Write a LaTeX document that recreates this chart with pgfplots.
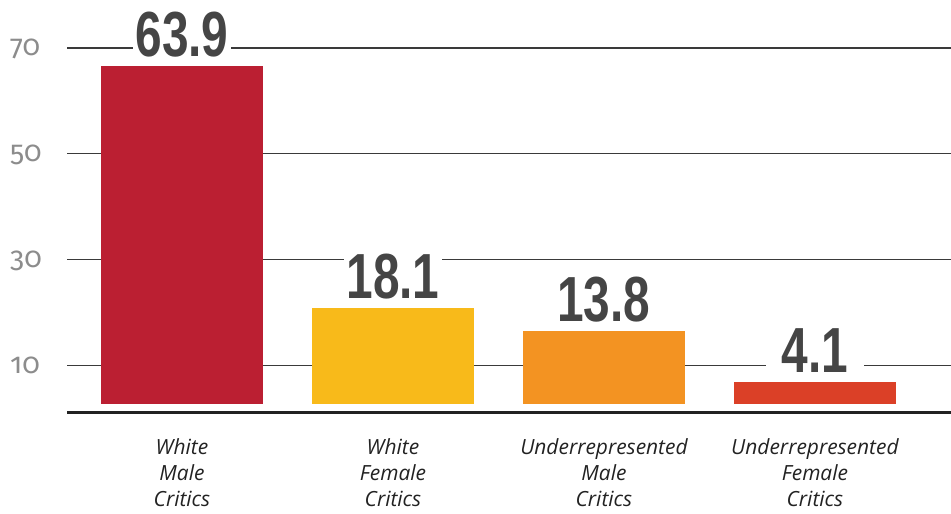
\documentclass[border=0pt]{standalone}
\usepackage{fontspec}
\usepackage{graphicx}
\usepackage{pgfplots}
\pgfplotsset{compat=1.18}
\setmainfont{Open Sans}
\newfontfamily\tickfont{Fira Sans}[Numbers=OldStyle]
\newfontfamily\valfont{Liberation Sans}
\newfontfamily\catfont{Open Sans}
\definecolor{cA}{HTML}{BB1F32}
\definecolor{cB}{HTML}{F8BA1A}
\definecolor{cC}{HTML}{F39322}
\definecolor{cD}{HTML}{DB4027}
\definecolor{cVal}{HTML}{454545}
\definecolor{cTick}{HTML}{8C8C8C}
\definecolor{cCat}{HTML}{222222}
\definecolor{cGrid}{HTML}{3A3A3A}
\begin{document}
\begin{tikzpicture}
\useasboundingbox (-67bp,-102bp) rectangle (884bp,412bp);
\begin{axis}[
  at={(0,0)}, anchor=south west,
  scale only axis, width=884bp, height=412bp,
  xmin=-0.545, xmax=3.645, ymin=-1.51, ymax=76.32,
  ybar, bar width=162bp,
  axis x line*=bottom, axis y line*=left,
  x axis line style={-, line width=3bp, color=cCat},
  y axis line style={draw=none},
  major tick length=0pt,
  ymajorgrids, grid style={line width=1.1bp, color=cGrid},
  ytick={7.26,27.26,47.26,67.26},
  yticklabels={10,30,50,70},
  yticklabel style={font=\tickfont\fontsize{29}{29}\selectfont, text=cTick, anchor=west, inner sep=0pt, xshift=-57bp, text height=15bp, text depth=0pt},
  xtick={0,1,2,3},
  xticklabels={{White\\Male\\Critics},{White\\Female\\Critics},{Underrepresented\\Male\\Critics},{Underrepresented\\Female\\Critics}},
  xticklabel style={font=\catfont\itshape\fontsize{21}{26.5}\selectfont, text=cCat, align=center, anchor=north, inner sep=0pt, yshift=-26bp},
  point meta=explicit symbolic,
  nodes near coords={\scalebox{0.75}[1]{\pgfplotspointmeta}},
  every node near coord/.append style={font=\valfont\bfseries\fontsize{64}{64}\selectfont, text=cVal, fill=white, anchor=base, yshift=9.5bp, minimum width=98bp, inner xsep=0pt, inner ysep=2bp},
]
\addplot[fill=cA, draw=none, bar shift=0pt] coordinates {(0,63.9) [63.9]};
\addplot[fill=cB, draw=none, bar shift=0pt] coordinates {(1,18.1) [18.1]};
\addplot[fill=cC, draw=none, bar shift=0pt] coordinates {(2,13.8) [13.8]};
\addplot[fill=cD, draw=none, bar shift=0pt] coordinates {(3,4.1) [4.1]};
\end{axis}
\end{tikzpicture}
\end{document}
